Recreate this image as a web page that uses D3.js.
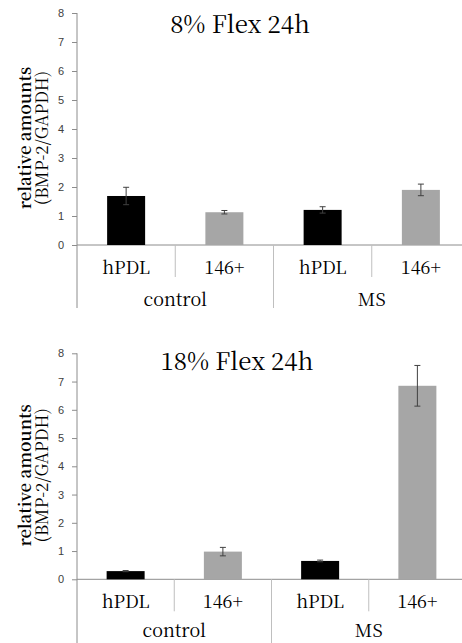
<!DOCTYPE html>
<html>
<head>
<meta charset="utf-8">
<script src="https://cdn.jsdelivr.net/npm/d3@7"></script>
<style>
  body { margin: 0; background: #fff; }
  svg { display: block; }
  .serif { font-family: 'Noto Serif CJK SC', 'Times New Roman', serif; }
</style>
</head>
<body>
<div id="chart"></div>
<script>
// data
const subgroups = ['hPDL', '146+', 'hPDL', '146+'];
const groups = ['control', 'MS'];
const titles = ['8% Flex 24h', '18% Flex 24h'];
const yTicks = [0, 1, 2, 3, 4, 5, 6, 7, 8];
const barColors = ['#000000', '#a6a6a6', '#000000', '#a6a6a6'];

const flex8Values = [1.69, 1.13, 1.21, 1.90];
const flex8Errors = [0.30, 0.06, 0.11, 0.20];
const flex18Values = [0.29, 0.98, 0.65, 6.85];
const flex18Errors = [0.02, 0.15, 0.03, 0.72];

const width = 462, height = 643;
const sans = '"Liberation Sans", Arial, sans-serif';

const svg = d3.select('#chart').append('svg')
    .attr('width', width)
    .attr('height', height);

// one panel per flex condition
function drawPanel(opts) {
    const g = svg.append('g');
    const x = d3.scaleBand()
        .domain(d3.range(subgroups.length))
        .range([opts.left, opts.right]);
    const y = d3.scaleLinear()
        .domain([0, 8])
        .range([opts.base, opts.top]);
    const bw = 38;

    // y axis
    const yAxis = d3.axisLeft(y).tickValues(yTicks).tickSize(5).tickPadding(8);
    const ax = g.append('g')
        .attr('transform', `translate(${opts.left},0)`)
        .call(yAxis);
    ax.attr('font-family', sans).attr('font-size', 11);
    ax.select('.domain').remove();
    ax.selectAll('line').attr('stroke', '#8c8c8c');
    ax.selectAll('text').attr('fill', '#404040');
    g.append('line')
        .attr('x1', opts.left).attr('x2', opts.left)
        .attr('y1', y(8)).attr('y2', opts.axisEnd)
        .attr('stroke', '#8c8c8c');

    // baseline
    g.append('line')
        .attr('x1', opts.left).attr('x2', width)
        .attr('y1', y(0)).attr('y2', y(0))
        .attr('stroke', '#8c8c8c');

    // bars
    g.selectAll('rect.bar')
        .data(opts.values)
        .join('rect')
        .attr('class', 'bar')
        .attr('x', (d, i) => x(i) + x.bandwidth() / 2 - bw / 2)
        .attr('width', bw)
        .attr('y', d => y(d))
        .attr('height', d => y(0) - y(d))
        .attr('fill', (d, i) => barColors[i]);

    // error bars
    const err = g.selectAll('g.err')
        .data(opts.values.map((v, i) => ({ v, e: opts.errors[i], i })))
        .join('g')
        .attr('class', 'err')
        .attr('stroke', '#404040')
        .attr('stroke-width', 1);
    err.append('line')
        .attr('x1', d => x(d.i) + x.bandwidth() / 2)
        .attr('x2', d => x(d.i) + x.bandwidth() / 2)
        .attr('y1', d => y(d.v + d.e))
        .attr('y2', d => y(d.v - d.e));
    err.append('line')
        .attr('x1', d => x(d.i) + x.bandwidth() / 2 - 3)
        .attr('x2', d => x(d.i) + x.bandwidth() / 2 + 3)
        .attr('y1', d => y(d.v + d.e))
        .attr('y2', d => y(d.v + d.e));
    err.append('line')
        .attr('x1', d => x(d.i) + x.bandwidth() / 2 - 3)
        .attr('x2', d => x(d.i) + x.bandwidth() / 2 + 3)
        .attr('y1', d => y(d.v - d.e))
        .attr('y2', d => y(d.v - d.e));

    // separators between categories
    d3.range(1, subgroups.length).forEach(i => {
        const outer = i % 2 === 0;
        g.append('line')
            .attr('x1', x(i)).attr('x2', x(i))
            .attr('y1', y(0))
            .attr('y2', outer ? opts.axisEnd : y(0) + 32)
            .attr('stroke', '#bfbfbf');
    });

    // category labels
    g.selectAll('text.sub')
        .data(subgroups)
        .join('text')
        .attr('class', 'sub serif')
        .attr('x', (d, i) => x(i) + x.bandwidth() / 2)
        .attr('y', y(0) + 29)
        .attr('text-anchor', 'middle')
        .attr('font-size', 18)
        .text(d => d);
    g.selectAll('text.grp')
        .data(groups)
        .join('text')
        .attr('class', 'grp serif')
        .attr('x', (d, i) => x(i * 2 + 1))
        .attr('y', y(0) + opts.groupDy)
        .attr('text-anchor', 'middle')
        .attr('font-size', 18)
        .text(d => d);

    // title
    g.append('text')
        .attr('class', 'serif')
        .attr('x', opts.titleX)
        .attr('y', opts.titleY)
        .attr('text-anchor', 'middle')
        .attr('font-size', 24)
        .text(opts.title);

    // y axis title
    const midY = (y(0) + y(8)) / 2 + 9;
    [['relative amounts', 31], ['(BMP-2/GAPDH)', 48]].forEach(([t, cx]) => {
        g.append('text')
            .attr('class', 'serif')
            .attr('transform', `translate(${cx},${midY}) rotate(-90)`)
            .attr('text-anchor', 'middle')
            .attr('font-size', 17)
            .attr('font-weight', t === 'relative amounts' ? 600 : 400)
            .text(t);
    });
}

drawPanel({
    title: titles[0], values: flex8Values, errors: flex8Errors,
    left: 77, right: 470, top: 13, base: 245, axisEnd: 308,
    titleX: 240, titleY: 33, groupDy: 61
});
drawPanel({
    title: titles[1], values: flex18Values, errors: flex18Errors,
    left: 77, right: 466, top: 353.3, base: 579.3, axisEnd: 643,
    titleX: 237, titleY: 370, groupDy: 58
});
</script>
</body>
</html>
